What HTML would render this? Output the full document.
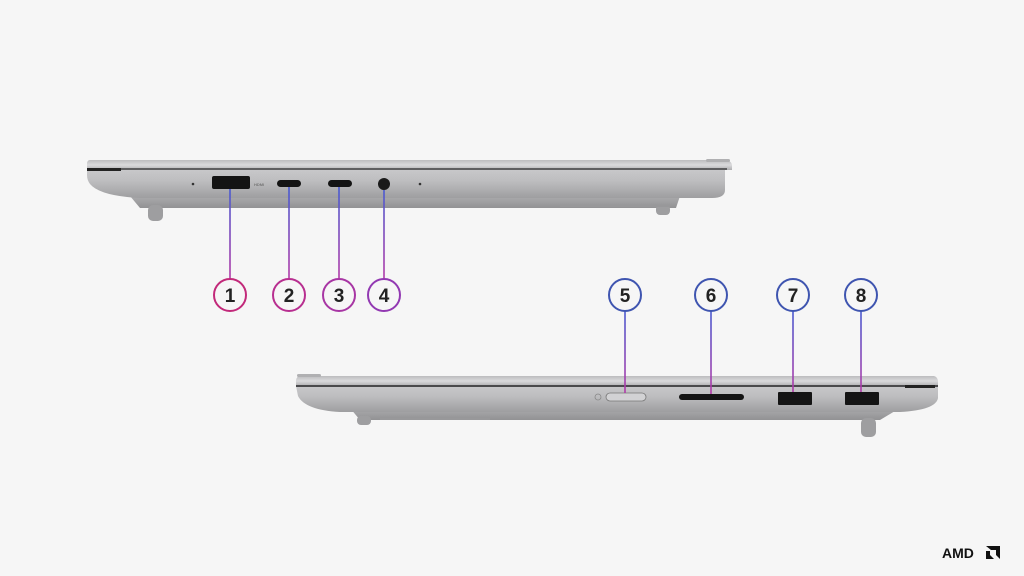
<!DOCTYPE html>
<html><head><meta charset="utf-8"><style>
html,body{margin:0;padding:0;background:#f6f6f6;}
svg{display:block}
text{font-family:"Liberation Sans",sans-serif;font-weight:bold;}
</style></head><body>
<svg width="1024" height="576" viewBox="0 0 1024 576" xmlns="http://www.w3.org/2000/svg">
<defs>
<linearGradient id="body" x1="0" y1="0" x2="0" y2="1">
<stop offset="0" stop-color="#c8c8ca"/><stop offset="0.4" stop-color="#bdbdbf"/><stop offset="1" stop-color="#9e9ea0"/>
</linearGradient>
<linearGradient id="lid" x1="0" y1="0" x2="0" y2="1">
<stop offset="0" stop-color="#bcbcbe"/><stop offset="0.5" stop-color="#dadadc"/><stop offset="1" stop-color="#aeaeb0"/>
</linearGradient>
<linearGradient id="lower" x1="0" y1="0" x2="0" y2="1">
<stop offset="0" stop-color="#ababad"/><stop offset="1" stop-color="#929294"/>
</linearGradient>
<linearGradient id="lt1" gradientUnits="userSpaceOnUse" x1="0" y1="190" x2="0" y2="279">
<stop offset="0" stop-color="#4a5ad0"/><stop offset="1" stop-color="#b23aa8"/>
</linearGradient>
<linearGradient id="lt2" gradientUnits="userSpaceOnUse" x1="0" y1="311" x2="0" y2="393">
<stop offset="0" stop-color="#4a5ad0"/><stop offset="1" stop-color="#b23aa8"/>
</linearGradient>
</defs>
<rect width="1024" height="576" fill="#f6f6f6"/>

<!-- TOP LAPTOP -->
<path d="M130 196 L680 196 L676 208 L140 208 Z" fill="url(#lower)"/>
<rect x="148" y="205" width="15" height="16" rx="5" fill="#9e9ea0"/>
<rect x="656" y="205" width="14" height="10" rx="4" fill="#9e9ea0"/>
<path d="M87 170 L725 170 L725 190 Q725 198 712 198 L140 198 Q100 196 90 184 Q87 180 87 175 Z" fill="url(#body)"/>
<path d="M90 160 L726 160 Q732 161 732 166 L732 170 L87 170 L87 164 Q87 160 90 160 Z" fill="url(#lid)"/>
<rect x="706" y="159" width="24" height="3" rx="1.5" fill="#b0b0b2"/>
<rect x="87" y="168" width="640" height="2" fill="#5e5e60"/>
<rect x="87" y="168" width="34" height="3" fill="#222"/>
<rect x="560" y="205" width="110" height="2" fill="#98989a"/>
<circle cx="193" cy="184" r="1.3" fill="#333"/>
<rect x="212" y="176" width="38" height="13" rx="2" fill="#141414"/>
<rect x="277" y="180" width="24" height="7" rx="3.5" fill="#141414"/>
<rect x="328" y="180" width="24" height="7" rx="3.5" fill="#141414"/>
<circle cx="384" cy="184" r="6" fill="#1a1a1a"/>
<circle cx="420" cy="184" r="1.3" fill="#333"/>
<text x="254" y="186" font-size="4" fill="#777" font-weight="normal">HDMI</text>
<g stroke="url(#lt1)" stroke-width="1.6">
<line x1="230" y1="189" x2="230" y2="279"/>
<line x1="289" y1="187" x2="289" y2="279"/>
<line x1="339" y1="187" x2="339" y2="279"/>
<line x1="384" y1="190" x2="384" y2="279"/>
</g>
<g fill="none" stroke-width="2">
<circle cx="230" cy="295" r="16" stroke="#c2297a"/>
<circle cx="289" cy="295" r="16" stroke="#b82f90"/>
<circle cx="339" cy="295" r="16" stroke="#a836a4"/>
<circle cx="384" cy="295" r="16" stroke="#9239b2"/>
</g>
<g font-size="19" fill="#222" text-anchor="middle">
<text x="230" y="302">1</text><text x="289" y="302">2</text><text x="339" y="302">3</text><text x="384" y="302">4</text>
</g>

<!-- BOTTOM LAPTOP -->
<path d="M350 408 L900 408 L880 420 L360 420 Z" fill="url(#lower)"/>
<rect x="357" y="416" width="14" height="9" rx="4" fill="#9e9ea0"/>
<rect x="861" y="418" width="15" height="19" rx="5" fill="#9e9ea0"/>
<path d="M296 386 L938 386 L938 398 Q936 410 900 412 L340 412 Q305 410 298 396 Z" fill="url(#body)"/>
<path d="M300 376 L934 376 Q938 377 938 382 L938 386 L296 386 L296 380 Q297 376 300 376 Z" fill="url(#lid)"/>
<rect x="297" y="374" width="24" height="3" rx="1.5" fill="#b0b0b2"/>
<rect x="296" y="385" width="642" height="2" fill="#4a4a4c"/>
<rect x="905" y="385" width="30" height="3" fill="#222"/>
<rect x="380" y="418" width="110" height="2" fill="#98989a"/>
<circle cx="598" cy="397" r="3" fill="none" stroke="#888" stroke-width="0.8"/>
<rect x="606" y="393" width="40" height="8" rx="4" fill="#d2d2d4" stroke="#777" stroke-width="0.8"/>
<rect x="679" y="394" width="65" height="6" rx="3" fill="#141414"/>
<rect x="778" y="392" width="34" height="13" rx="1" fill="#141414"/>
<rect x="845" y="392" width="34" height="13" rx="1" fill="#141414"/>
<g stroke="url(#lt2)" stroke-width="1.6">
<line x1="625" y1="311" x2="625" y2="393"/>
<line x1="711" y1="311" x2="711" y2="394"/>
<line x1="793" y1="311" x2="793" y2="392"/>
<line x1="861" y1="311" x2="861" y2="392"/>
</g>
<g fill="none" stroke-width="2" stroke="#3f55b0">
<circle cx="625" cy="295" r="16"/><circle cx="711" cy="295" r="16"/>
<circle cx="793" cy="295" r="16"/><circle cx="861" cy="295" r="16"/>
</g>
<g font-size="19" fill="#222" text-anchor="middle">
<text x="625" y="302">5</text><text x="711" y="302">6</text><text x="793" y="302">7</text><text x="861" y="302">8</text>
</g>

<text x="942" y="558" font-size="14" fill="#111" font-weight="900">AMD</text>
<path d="M986 546 L1000 546 L1000 559 L996 555 L996 550 L991 550 Z M986 551 L990 551 L990 555 L994 559 L986 559 Z" fill="#111"/>
</svg>
</body></html>
